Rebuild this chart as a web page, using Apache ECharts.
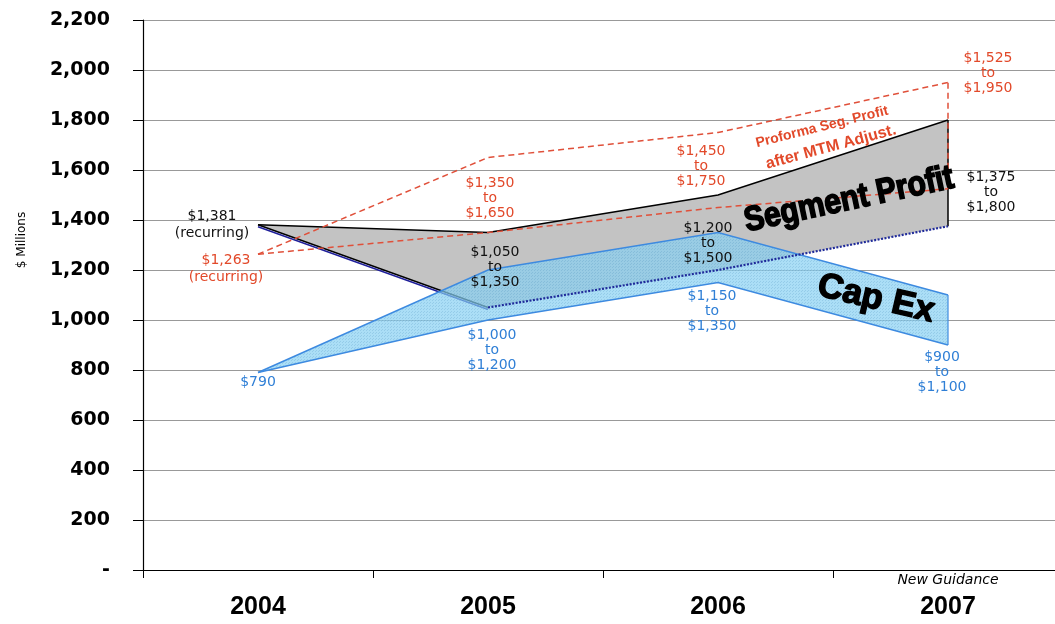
<!DOCTYPE html>
<html>
<head>
<meta charset="utf-8">
<script src="https://cdn.jsdelivr.net/npm/echarts@6/dist/echarts.min.js"></script>
<style>
  html, body { margin: 0; padding: 0; background: #fff; }
  #chart { width: 1055px; height: 624px; }
</style>
</head>
<body>
<div id="chart"></div>
<script>
// ---- data ----
const years = ['2004', '2005', '2006', '2007'];
const segLow = [1381, 1050, 1200, 1375];
const segHigh = [1381, 1350, 1500, 1800];
const capLow = [790, 1000, 1150, 900];
const capHigh = [790, 1200, 1350, 1100];
const proLow = [1263, 1350, 1450, 1525];
const proHigh = [1263, 1650, 1750, 1950];
const yTickLabels = ['-', '200', '400', '600', '800', '1,000', '1,200', '1,400', '1,600', '1,800', '2,000', '2,200'];

const RED = '#e2492a';
const BLUE = '#2f7fd6';
const BLACK = '#111';

function fmt(v) { return '$' + v.toLocaleString('en-US'); }
function rangeText(lo, hi, i) { return fmt(lo[i]) + '\nto\n' + fmt(hi[i]); }

function pts(api, arr, from, to) {
  const out = [];
  for (let i = from; i <= to; i++) out.push(api.coord([i, arr[i]]));
  return out;
}
function band(api, lo, hi) {
  const n = lo.length - 1;
  return pts(api, hi, 0, n).concat(pts(api, lo, 0, n).reverse());
}

// hatch pattern for cap ex
const hatch = document.createElement('canvas');
hatch.width = 3; hatch.height = 3;
(function () {
  const c = hatch.getContext('2d');
  c.fillStyle = 'rgba(40,110,170,0.16)';
  c.fillRect(0, 0, 1, 1);
  c.fillRect(1, 2, 1, 1);
})();

const n = years.length - 1;

const chart = echarts.init(document.getElementById('chart'), null, { renderer: 'canvas' });

const txt = (x, y, text, color, font, extra) => ({
  type: 'text', x: x, y: y, z: 100,
  style: Object.assign({ text: text, fill: color, font: font, align: 'center', verticalAlign: 'middle', lineHeight: 15 }, extra || {})
});

const deg = Math.PI / 180;

chart.setOption({
  animation: false,
  backgroundColor: '#fff',
  grid: { left: 143, top: 20, width: 920, bottom: 54, outerBoundsMode: 'none', containLabel: false },
  xAxis: {
    type: 'category',
    data: years,
    boundaryGap: true,
    axisLine: { lineStyle: { color: '#000', width: 1.2 } },
    axisTick: { show: true, length: 8, lineStyle: { color: '#000' } },
    axisLabel: { color: '#000', fontFamily: 'Liberation Sans, Arial', fontWeight: 'bold', fontSize: 25, margin: 25 },
    splitLine: { show: false }
  },
  yAxis: {
    type: 'value',
    min: 0, max: 2200, interval: 200,
    axisLine: { show: true, lineStyle: { color: '#000', width: 1.2 } },
    axisTick: { show: true, inside: false, length: 10, lineStyle: { color: '#000' } },
    axisLabel: {
      color: '#000', fontFamily: 'DejaVu Sans', fontWeight: 'bold', fontSize: 19, margin: 33,
      formatter: function (v) { return yTickLabels[Math.round(v / 200)]; }
    },
    splitLine: { show: true, lineStyle: { color: '#999', width: 1.2 } }
  },
  series: [
    {
      name: 'Segment Profit', type: 'custom', data: [[0, 0]], z: 2,
      renderItem: function (params, api) {
        const hi = pts(api, segHigh, 0, n);
        const lo = pts(api, segLow, 0, 1);
        const loShift = lo.map(p => [p[0], p[1] + 2]);
        return {
          type: 'group', children: [
            { type: 'polygon', shape: { points: band(api, segLow, segHigh) }, style: { fill: '#c3c3c3', stroke: null } },
            { type: 'polyline', shape: { points: hi }, style: { stroke: '#000', lineWidth: 1.5, fill: null } },
            { type: 'polyline', shape: { points: lo }, style: { stroke: '#000', lineWidth: 1.5, fill: null } },
            { type: 'polyline', shape: { points: loShift }, style: { stroke: '#1f1f9a', lineWidth: 1.5, fill: null } },
            { type: 'polyline', shape: { points: [api.coord([n, segLow[n]]), api.coord([n, segHigh[n]])] }, style: { stroke: '#000', lineWidth: 1.5, fill: null } }
          ]
        };
      }
    },
    {
      name: 'Cap Ex', type: 'custom', data: [[0, 0]], z: 3,
      renderItem: function (params, api) {
        const poly = band(api, capLow, capHigh);
        return {
          type: 'group', children: [
            { type: 'polygon', shape: { points: poly }, style: { fill: 'rgba(135,208,242,0.70)', stroke: null } },
            { type: 'polygon', shape: { points: poly }, style: { fill: { image: hatch, repeat: 'repeat' }, stroke: null } },
            { type: 'polyline', shape: { points: pts(api, capHigh, 0, n) }, style: { stroke: '#3d8ae0', lineWidth: 1.5, fill: null } },
            { type: 'polyline', shape: { points: pts(api, capLow, 0, n) }, style: { stroke: '#3d8ae0', lineWidth: 1.5, fill: null } },
            { type: 'polyline', shape: { points: [api.coord([n, capLow[n]]), api.coord([n, capHigh[n]])] }, style: { stroke: '#3d8ae0', lineWidth: 1.2, fill: null } }
          ]
        };
      }
    },
    {
      name: 'Segment Profit low edge', type: 'custom', data: [[0, 0]], z: 4,
      renderItem: function (params, api) {
        return {
          type: 'polyline', shape: { points: pts(api, segLow, 1, n) },
          style: { stroke: '#1f2a9a', lineWidth: 2.2, lineDash: [2, 1.5], fill: null }
        };
      }
    },
    {
      name: 'Proforma Seg. Profit', type: 'custom', data: [[0, 0]], z: 5,
      renderItem: function (params, api) {
        const st = { stroke: '#e0503a', lineWidth: 1.5, lineDash: [6, 4], fill: null };
        return {
          type: 'group', children: [
            { type: 'polyline', shape: { points: pts(api, proHigh, 0, n) }, style: Object.assign({}, st) },
            { type: 'polyline', shape: { points: pts(api, proLow, 0, n) }, style: Object.assign({}, st) },
            { type: 'polyline', shape: { points: [api.coord([n, proLow[n]]), api.coord([n, proHigh[n]])] }, style: Object.assign({}, st) }
          ]
        };
      }
    }
  ],
  graphic: [
    Object.assign(txt(22, 240, '$ Millions', '#000', '12px "DejaVu Sans"', {}), { rotation: 90 * deg }),
    // 2004
    txt(212, 225, fmt(segHigh[0]) + '\n(recurring)', BLACK, '14px "DejaVu Sans"', { lineHeight: 17 }),
    txt(226, 269, fmt(proLow[0]) + '\n(recurring)', RED, '14px "DejaVu Sans"', { lineHeight: 17 }),
    txt(258, 382, fmt(capLow[0]), BLUE, '14px "DejaVu Sans"'),
    // 2005
    txt(490, 198, rangeText(proLow, proHigh, 1), RED, '14px "DejaVu Sans"'),
    txt(495, 267, rangeText(segLow, segHigh, 1), BLACK, '14px "DejaVu Sans"'),
    txt(492, 350, rangeText(capLow, capHigh, 1), BLUE, '14px "DejaVu Sans"'),
    // 2006
    txt(701, 166, rangeText(proLow, proHigh, 2), RED, '14px "DejaVu Sans"'),
    txt(708, 243, rangeText(segLow, segHigh, 2), BLACK, '14px "DejaVu Sans"'),
    txt(712, 311, rangeText(capLow, capHigh, 2), BLUE, '14px "DejaVu Sans"'),
    // 2007
    txt(988, 73, rangeText(proLow, proHigh, 3), RED, '14px "DejaVu Sans"'),
    txt(991, 192, rangeText(segLow, segHigh, 3), BLACK, '14px "DejaVu Sans"'),
    txt(942, 372, rangeText(capLow, capHigh, 3), BLUE, '14px "DejaVu Sans"'),
    // big labels
    Object.assign(txt(849, 200, 'Segment Profit', '#000', 'bold 30px "Liberation Sans"', { stroke: '#000', lineWidth: 1.5 }), { rotation: 12 * deg, scaleY: 1.15 }),
    Object.assign(txt(876, 299, 'Cap Ex', '#000', 'bold 35px "Liberation Sans"', { stroke: '#000', lineWidth: 1.5 }), { rotation: -13 * deg }),
    Object.assign(txt(822, 127, 'Proforma Seg. Profit', RED, 'bold 14px "Liberation Sans"', {}), { rotation: 14 * deg }),
    Object.assign(txt(831, 147, 'after MTM Adjust.', RED, 'bold 16px "Liberation Sans"', {}), { rotation: 15 * deg }),
    txt(948, 580, 'New Guidance', '#000', 'italic 14px "DejaVu Sans"')
  ]
});
</script>
</body>
</html>
